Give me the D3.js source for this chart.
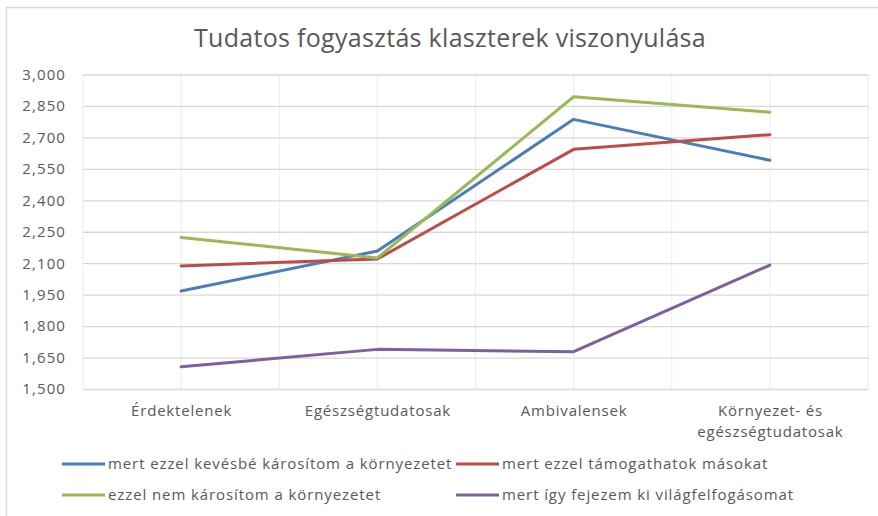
<!DOCTYPE html>
<html>
<head>
<meta charset="utf-8">
<script src="https://cdn.jsdelivr.net/npm/d3@7"></script>
<style>
  body { margin: 0; background: #fff; }
  text { font-family: "Open Sans", "Liberation Sans", sans-serif; fill: #595959; }
</style>
</head>
<body>
<svg id="chart" width="878" height="516"></svg>
<script>
// categories (x axis)
var categories = ["Érdektelenek", "Egészségtudatosak", "Ambivalensek", "Környezet- és|egészségtudatosak"];

// series
var seriesNames = [
  "mert ezzel kevésbé károsítom a környezetet",
  "mert ezzel támogathatok másokat",
  "ezzel nem károsítom a környezetet",
  "mert így fejezem ki világfelfogásomat"
];
var kevesbeKarositom = [1.967, 2.158, 2.786, 2.591];
var tamogathatok = [2.087, 2.120, 2.643, 2.713];
var nemKarositom = [2.223, 2.125, 2.894, 2.820];
var vilagfelfogas = [1.606, 1.689, 1.678, 2.091];
var colors = ["#4a7ebb", "#be4b48", "#98b954", "#7d60a0"];

// y ticks
var yTicks = [1.5, 1.65, 1.8, 1.95, 2.1, 2.25, 2.4, 2.55, 2.7, 2.85, 3.0];

var svg = d3.select("#chart");
var plot = {left: 83, right: 868, top: 74.5, bottom: 389};

// frame
svg.append("rect")
  .attr("x", 6.5).attr("y", 7.5)
  .attr("width", 900).attr("height", 600)
  .attr("fill", "none").attr("stroke", "#d9d9d9").attr("stroke-width", 1.5);

svg.append("text")
  .attr("x", 450).attr("y", 47)
  .attr("text-anchor", "middle")
  .style("font-size", "25px")
  .style("letter-spacing", "0.3px")
  .text("Tudatos fogyasztás klaszterek viszonyulása");

var x = d3.scalePoint().domain(categories).range([plot.left, plot.right]).padding(0.5);
var y = d3.scaleLinear().domain([1.5, 3.0]).range([plot.bottom, plot.top]);

// vertical gridlines, every half category
var half = x.step() / 2;
var vlines = d3.range(0, categories.length * 2 + 1).map(function(i) { return plot.left + i * half; });
svg.append("g").selectAll("line").data(vlines).enter().append("line")
  .attr("x1", function(d) { return d; }).attr("x2", function(d) { return d; })
  .attr("y1", plot.top).attr("y2", plot.bottom)
  .attr("stroke", "#ececec").attr("stroke-width", 1);

// y axis with horizontal gridlines
var fmt = d3.format(",.3f");
var yAxis = d3.axisLeft(y).tickValues(yTicks)
  .tickSize(-(plot.right - plot.left)).tickPadding(17)
  .tickFormat(function(d) { return fmt(d).replace(".", ","); });
var gy = svg.append("g").attr("transform", "translate(" + plot.left + ",0)").call(yAxis);
gy.select(".domain").remove();
gy.selectAll("line").attr("stroke", "#d9d9d9").attr("stroke-width", 1.3);
gy.selectAll("text").style("font-size", "15px").style("letter-spacing", "1.1px")
  .style("font-family", "Open Sans, sans-serif").attr("fill", "#595959");

// x axis labels
var xAxis = d3.axisBottom(x).tickSize(0).tickPadding(12).tickFormat(function() { return ""; });
var gx = svg.append("g").attr("transform", "translate(0," + plot.bottom + ")").call(xAxis);
gx.select(".domain").remove();
gx.selectAll(".tick").each(function(d) {
  var t = d3.select(this).select("text").text(null).attr("y", 0).attr("dy", null);
  d.split("|").forEach(function(part, i) {
    t.append("tspan").attr("x", 0).attr("y", 27 + i * 21).text(part);
  });
});
gx.selectAll("text").style("font-size", "15px").style("letter-spacing", "0.8px")
  .style("font-family", "Open Sans, sans-serif").attr("fill", "#595959");

// lines
var allSeries = [kevesbeKarositom, tamogathatok, nemKarositom, vilagfelfogas];
var line = d3.line()
  .x(function(d, i) { return x(categories[i]); })
  .y(function(d) { return y(d); });
svg.append("g").selectAll("path").data(allSeries).enter().append("path")
  .attr("d", line)
  .attr("fill", "none")
  .attr("stroke", function(d, i) { return colors[i]; })
  .attr("stroke-width", 3)
  .attr("stroke-linejoin", "round")
  .attr("stroke-linecap", "round");

// legend
var legendPos = [[62, 464], [456, 464], [62, 495], [456, 495]];
var lg = svg.append("g").selectAll("g").data(seriesNames).enter().append("g")
  .attr("transform", function(d, i) { return "translate(" + legendPos[i][0] + "," + legendPos[i][1] + ")"; });
lg.append("line").attr("x1", 0).attr("x2", 43).attr("y1", 0).attr("y2", 0)
  .attr("stroke", function(d, i) { return colors[i]; }).attr("stroke-width", 3);
lg.append("text").attr("x", 46).attr("y", 5)
  .style("font-size", "15px")
  .style("letter-spacing", "0.9px")
  .text(function(d) { return d; });
</script>
</body>
</html>
